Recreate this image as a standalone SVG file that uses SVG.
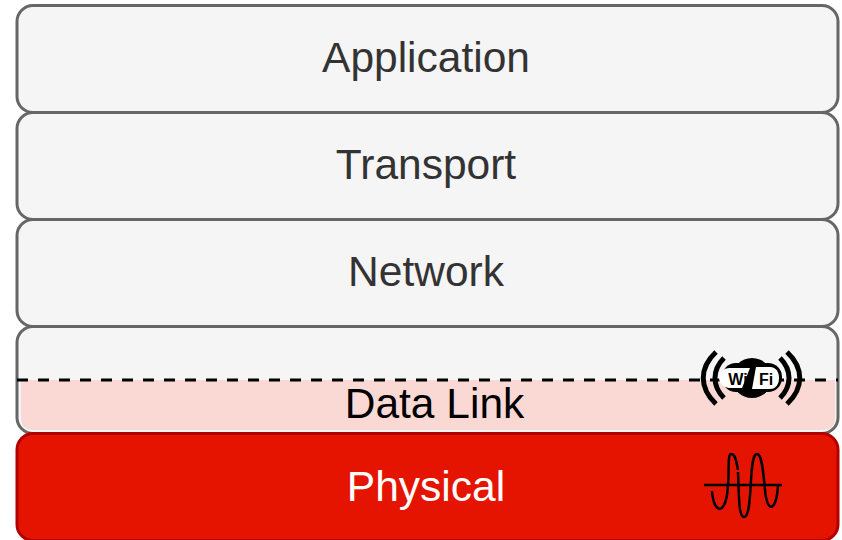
<svg xmlns="http://www.w3.org/2000/svg" width="842" height="540" viewBox="0 0 842 540">
<style>
.box{fill:#f5f5f5;stroke:#666;stroke-width:3}
.lbl{font-family:"Liberation Sans",Arial,sans-serif;font-size:42.5px;text-anchor:middle;fill:#333}
.ic{fill:none;stroke:#000;stroke-linecap:butt}
</style>
<g id="application"><rect class="box" x="17" y="5.500" width="821" height="107" rx="16"/><text class="lbl" x="426" y="72">Application</text></g>
<g id="transport"><rect class="box" x="17" y="112.500" width="821" height="107" rx="16"/><text class="lbl" x="426" y="179">Transport</text></g>
<g id="network"><rect class="box" x="17" y="219.500" width="821" height="107" rx="16"/><text class="lbl" x="426" y="286">Network</text></g>
<g id="datalink"><rect class="box" x="17" y="326.500" width="821" height="107" rx="16"/>
<path d="M21 380H835V418Q835 430 823 430H33Q21 430 21 418Z" fill="#fad9d5"/>
<text class="lbl" x="434.500" y="418" style="fill:#000">Data Link</text></g>
<g id="physical"><rect x="17" y="433.500" width="821" height="107" rx="16" fill="#e51400" stroke="#b20000" stroke-width="3"/><text class="lbl" x="426" y="501" style="fill:#fff">Physical</text>
<g class="ic"><path d="M704 485H782" stroke-width="2.500" fill="none" stroke="#000"/>
<path d="M712 491C714 514 724 514 727 495C730 475 727 454 731 454C736 454 737 465 738 470M738 472C739 500 739 517 744 517C750 517 750 492 751 480C752 465 753 454 757 454C762 454 763 470 765 490C767 513 776 513 778 486" stroke-width="2.500" fill="none" stroke="#000"/></g></g>
<g id="connectors"><path d="M17 380H838" fill="none" stroke="#000" stroke-width="3" stroke-dasharray="11 10"/></g>
<g id="wifi">
<path d="M716 352C699 368 699 388 716 404" class="ic" stroke-width="5"/>
<path d="M724 358C712 370 712 386 724 398" class="ic" stroke-width="5"/>
<path d="M787 352C804 368 804 388 787 404" class="ic" stroke-width="5"/>
<path d="M780 358C792 370 792 386 780 398" class="ic" stroke-width="5"/>
<ellipse cx="752" cy="378" rx="20" ry="20" fill="#000"/>
<rect x="722" y="363" width="60" height="29" rx="14" fill="#000"/>
<path d="M756 367H770C776 367 779 372 779 378C779 384 776 389 770 389H752Z" fill="#fff"/>
<path d="M729 368A10 10 0 0 0 729 388H742L750 368Z" fill="#fff"/>
<rect x="749" y="375" width="4" height="3" fill="#000"/>
<text x="738" y="385" font-family="Liberation Sans,Arial,sans-serif" font-size="16" font-weight="700" text-anchor="middle" fill="#000">Wi</text>
<text x="766" y="385" font-family="Liberation Sans,Arial,sans-serif" font-size="16" font-weight="700" text-anchor="middle" fill="#000">Fi</text>
</g>
</svg>
